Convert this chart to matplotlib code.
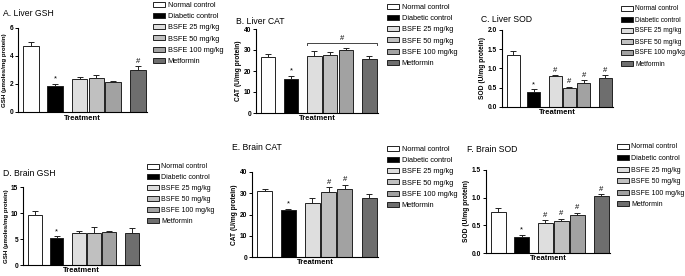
import matplotlib
matplotlib.use("Agg")
import matplotlib.pyplot as plt
from matplotlib.patches import Patch

plt.rcParams['font.family'] = ['Liberation Sans', 'DejaVu Sans']

groups = ["Normal control", "Diabetic control", "BSFE 25 mg/kg",
          "BSFE 50 mg/kg", "BSFE 100 mg/kg", "Metformin"]
colors = ["white", "black", "#dedede", "#c0c0c0", "#a2a2a2", "#6e6e6e"]
positions = [0, 1.45, 2.95, 3.95, 4.95, 6.45]

liver_gsh = [4.7, 1.85, 2.38, 2.44, 2.16, 3.02]
liver_gsh_err = [0.28, 0.15, 0.1, 0.18, 0.06, 0.28]
liver_cat = [26.6, 16.4, 27.0, 27.7, 29.9, 25.8]
liver_cat_err = [1.4, 1.3, 2.5, 1.3, 1.0, 1.2]
liver_sod = [1.34, 0.38, 0.81, 0.49, 0.62, 0.76]
liver_sod_err = [0.11, 0.08, 0.03, 0.04, 0.07, 0.08]
brain_gsh = [9.7, 5.15, 6.15, 6.2, 6.4, 6.2]
brain_gsh_err = [0.75, 0.4, 0.4, 1.1, 0.12, 0.9]
brain_cat = [31.0, 22.0, 25.4, 30.6, 32.2, 27.9]
brain_cat_err = [0.9, 0.7, 2.5, 2.4, 1.9, 1.8]
brain_sod = [0.75, 0.29, 0.55, 0.58, 0.68, 1.03]
brain_sod_err = [0.06, 0.04, 0.05, 0.04, 0.05, 0.04]

W, H = 685, 276
fig = plt.figure(figsize=(W / 100, H / 100), dpi=100)


def rect(x0, x1, top, bottom):
    return [x0 / W, 1 - bottom / H, (x1 - x0) / W, (bottom - top) / H]


panels = [
    dict(title="A. Liver GSH", r=(18, 147, 28, 112), vals=liver_gsh, err=liver_gsh_err,
         ylim=6, ticks=[0, 2, 4, 6], fmt="{:.0f}", ylabel="GSH (µmoles/mg protein)", yfs=4.4,
         tpos=(3, 14), leg=(153, 1.5), lfs=5.3, ls=0.57, star=[1], hash=[5], bracket=False, xl=118),
    dict(title="B. Liver CAT", r=(256, 378, 29, 113), vals=liver_cat, err=liver_cat_err,
         ylim=40, ticks=[0, 10, 20, 30, 40], fmt="{:.0f}", ylabel="CAT (U/mg protein)", yfs=4.8,
         tpos=(236, 21), leg=(387, 3.5), lfs=5.3, ls=0.57, star=[1], hash=[], bracket=True, xl=118),
    dict(title="C. Liver SOD", r=(502, 613, 30, 107), vals=liver_sod, err=liver_sod_err,
         ylim=2.0, ticks=[0, 0.5, 1.0, 1.5, 2.0], fmt="{:.1f}", ylabel="SOD (U/mg protein)", yfs=4.8,
         tpos=(481, 20), leg=(621, 5.5), lfs=4.8, ls=0.6, star=[1], hash=[2, 3, 4, 5], bracket=False, xl=112),
    dict(title="D. Brain GSH", r=(23, 140, 187, 265), vals=brain_gsh, err=brain_gsh_err,
         ylim=15, ticks=[0, 5, 10, 15], fmt="{:.0f}", ylabel="GSH (µmoles/mg protein)", yfs=4.4,
         tpos=(3, 173), leg=(147, 163.5), lfs=5.0, ls=0.55, star=[1], hash=[], bracket=False, xl=270),
    dict(title="E. Brain CAT", r=(252, 378, 172, 257), vals=brain_cat, err=brain_cat_err,
         ylim=40, ticks=[0, 10, 20, 30, 40], fmt="{:.0f}", ylabel="CAT (U/mg protein)", yfs=4.8,
         tpos=(232, 147), leg=(387, 145.5), lfs=5.3, ls=0.57, star=[1], hash=[3, 4], bracket=False, xl=262),
    dict(title="F. Brain SOD", r=(486, 610, 170, 253), vals=brain_sod, err=brain_sod_err,
         ylim=1.5, ticks=[0, 0.5, 1.0, 1.5], fmt="{:.1f}", ylabel="SOD (U/mg protein)", yfs=4.8,
         tpos=(467, 149), leg=(617, 143.5), lfs=5.0, ls=0.65, star=[1], hash=[2, 3, 4, 5], bracket=False, xl=258),
]

width = 0.92
for p in panels:
    ax = fig.add_axes(rect(*p["r"]))
    vals, err = p["vals"], p["err"]
    ax.bar(positions, vals, width=width, color=colors, edgecolor="#222222", linewidth=0.7,
           zorder=2)
    ax.errorbar(positions, vals, yerr=[[0] * len(err), err], fmt="none", ecolor="#222222",
                elinewidth=0.7, capsize=2.5, capthick=0.7, zorder=1)
    ax.set_xlim(-0.78, 7.0)
    ax.set_ylim(0, p["ylim"])
    ax.set_yticks(p["ticks"])
    ax.set_yticklabels([p["fmt"].format(t) for t in p["ticks"]], fontsize=4.8,
                       fontweight="bold")
    ax.set_xticks([])
    for s in ("top", "right"):
        ax.spines[s].set_visible(False)
    ax.spines["left"].set_linewidth(0.8)
    ax.spines["bottom"].set_linewidth(0.8)
    ax.tick_params(axis="y", length=2.5, width=0.7, pad=1)
    ax.set_ylabel(p["ylabel"], fontsize=p["yfs"], fontweight="bold", labelpad=1.5)
    fig.text(0.5 * (p["r"][0] + p["r"][1]) / W, 1 - p["xl"] / H, "Treatment",
             ha="center", va="center", fontsize=5.5, fontweight="bold")
    fig.text(p["tpos"][0] / W, 1 - p["tpos"][1] / H, p["title"], ha="left", va="center",
             fontsize=6.2)
    off = p["ylim"] * 0.015
    for i in p["star"]:
        ax.text(positions[i], vals[i] + err[i] + off, "*", ha="center", va="bottom",
                fontsize=5.5)
    for i in p["hash"]:
        ax.text(positions[i], vals[i] + err[i] + off, "#", ha="center", va="bottom",
                fontsize=5.5)
    if p["bracket"]:
        x0 = positions[2] - width / 2
        x1 = positions[5] + width / 2
        yb = 33.3
        ax.plot([x0, x0, x1, x1], [yb - 1.0, yb, yb, yb - 1.0], color="#444444", lw=0.7,
                clip_on=False)
        ax.text(0.5 * (x0 + x1), yb + 0.3, "#", ha="center", va="bottom", fontsize=5.5)
    handles = [Patch(facecolor=c, edgecolor="#222222", linewidth=0.7) for c in colors]
    fs = p["lfs"]
    fig.legend(handles, groups, loc="upper left",
               bbox_to_anchor=(p["leg"][0] / W, 1 - p["leg"][1] / H),
               bbox_transform=fig.transFigure, frameon=False, fontsize=fs,
               handlelength=8.6 / fs, handleheight=3.6 / fs, handletextpad=0.35,
               labelspacing=p["ls"], borderpad=0, borderaxespad=0)

fig.savefig("out.png", dpi=100)
